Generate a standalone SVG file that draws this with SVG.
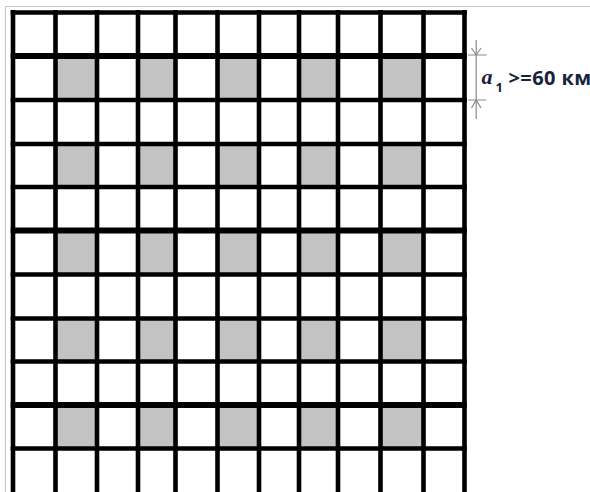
<svg xmlns="http://www.w3.org/2000/svg" width="590" height="492" viewBox="0 0 590 492">
<style>
.cell{fill:#c3c3c3}
.ln{stroke:#000;stroke-width:4.6;fill:none}
.thick{stroke:#000;stroke-width:6;fill:none}
.frame{stroke:#c6c6c6;stroke-width:1;fill:none}
.dim{stroke:#8a8a8a;stroke-width:1.2;fill:none}
.lbl{font-family:"Open Sans","Liberation Sans",sans-serif;font-weight:bold;fill:#18233a}
</style>
<rect width="590" height="492" fill="#fff"/>
<path class="frame" d="M5.5,492 V6.5 H590"/>
<g id="shaded">
<rect class="cell" x="55.5" y="56" width="41.5" height="44"/>
<rect class="cell" x="138" y="56" width="37.5" height="44"/>
<rect class="cell" x="217.5" y="56" width="41.5" height="44"/>
<rect class="cell" x="299" y="56" width="39" height="44"/>
<rect class="cell" x="380.5" y="56" width="43" height="44"/>
<rect class="cell" x="55.5" y="144" width="41.5" height="43"/>
<rect class="cell" x="138" y="144" width="37.5" height="43"/>
<rect class="cell" x="217.5" y="144" width="41.5" height="43"/>
<rect class="cell" x="299" y="144" width="39" height="43"/>
<rect class="cell" x="380.5" y="144" width="43" height="43"/>
<rect class="cell" x="55.5" y="230.5" width="41.5" height="44"/>
<rect class="cell" x="138" y="230.5" width="37.5" height="44"/>
<rect class="cell" x="217.5" y="230.5" width="41.5" height="44"/>
<rect class="cell" x="299" y="230.5" width="39" height="44"/>
<rect class="cell" x="380.5" y="230.5" width="43" height="44"/>
<rect class="cell" x="55.5" y="318.5" width="41.5" height="43"/>
<rect class="cell" x="138" y="318.5" width="37.5" height="43"/>
<rect class="cell" x="217.5" y="318.5" width="41.5" height="43"/>
<rect class="cell" x="299" y="318.5" width="39" height="43"/>
<rect class="cell" x="380.5" y="318.5" width="43" height="43"/>
<rect class="cell" x="55.5" y="405" width="41.5" height="43.5"/>
<rect class="cell" x="138" y="405" width="37.5" height="43.5"/>
<rect class="cell" x="217.5" y="405" width="41.5" height="43.5"/>
<rect class="cell" x="299" y="405" width="39" height="43.5"/>
<rect class="cell" x="380.5" y="405" width="43" height="43.5"/>
</g>
<g id="grid">
<path class="ln" d="M13,10 V492 M55.5,10 V492 M97,10 V492 M138,10 V492 M175.5,10 V492 M217.5,10 V492 M259,10 V492 M299,10 V492 M338,10 V492 M380.5,10 V492 M423.5,10 V492 M464.5,10 V492"/>
<path class="ln" d="M10.7,12.5 H466.8 M10.7,100 H466.8 M10.7,144 H466.8 M10.7,187 H466.8 M10.7,274.5 H466.8 M10.7,318.5 H466.8 M10.7,361.5 H466.8 M10.7,448.5 H466.8"/>
<path class="thick" d="M10.7,56 H466.8 M10.7,230.5 H466.8 M10.7,405 H466.8"/>
</g>
<g id="dimension">
<path class="dim" d="M468,55 H486.5 M468,100 H486.5 M476.2,40 V119"/>
<path class="dim" d="M471.5,48 L476.2,55 L481,48 M471.5,108 L476.2,100 L481,108"/>
</g>
<g id="label">
<text x="481.5" y="83.5" font-family="'Liberation Serif',serif" font-style="italic" font-weight="bold" font-size="22" fill="#18233a">a</text>
<text class="lbl" x="495.5" y="91.5" font-size="13">1</text>
<text class="lbl" x="508.5" y="84.5" font-size="20" letter-spacing="0.4">&gt;=60 км</text>
</g>
</svg>
